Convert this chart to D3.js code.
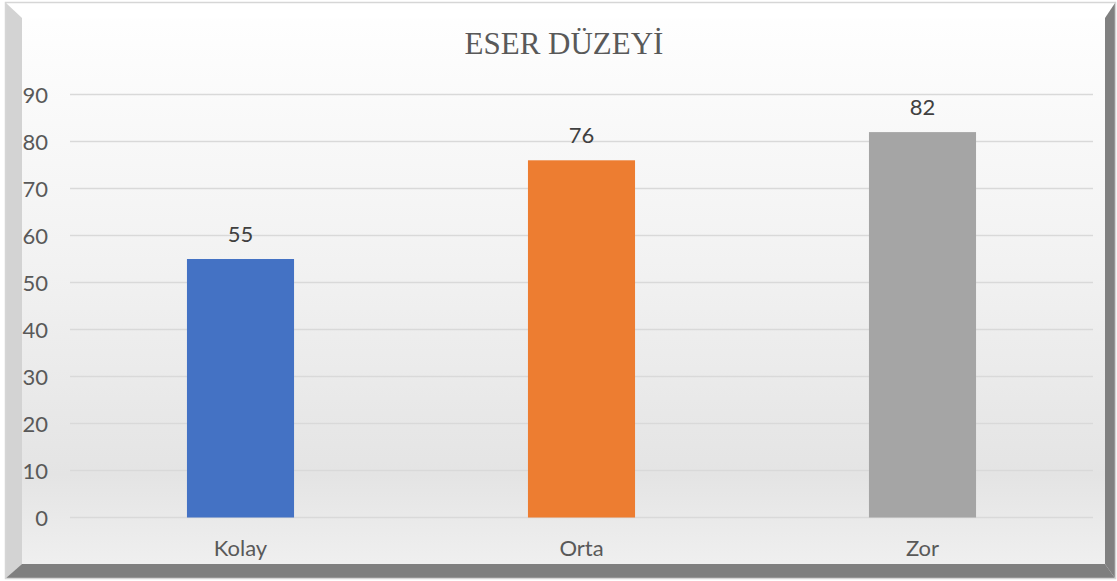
<!DOCTYPE html>
<html>
<head>
<meta charset="utf-8">
<script src="https://cdn.jsdelivr.net/npm/d3@7"></script>
<style>
  html, body { margin: 0; padding: 0; background: #fff; }
  svg { display: block; }
</style>
</head>
<body>
<svg width="1117" height="581"></svg>
<script>
// chart data
var categories = ["Kolay", "Orta", "Zor"];
var values = [55, 76, 82];
var barColors = ["#4472C4", "#ED7D31", "#A5A5A5"];
var yTicks = [0, 10, 20, 30, 40, 50, 60, 70, 80, 90];
var title = "ESER DÜZEYİ";

var mySVG = d3.select("svg");
var W = 1117, H = 581;

// background gradient for the inner panel
var defs = mySVG.append("defs");
var grad = defs.append("linearGradient").attr("id", "bg").attr("x1", 0).attr("y1", 0).attr("x2", 0).attr("y2", 1);
grad.append("stop").attr("offset", "0").attr("stop-color", "#ffffff");
grad.append("stop").attr("offset", "0.45").attr("stop-color", "#f2f2f2");
grad.append("stop").attr("offset", "0.82").attr("stop-color", "#e4e4e4");
grad.append("stop").attr("offset", "1").attr("stop-color", "#f1f1f1");

// frame (bevelled border)
var L = 6, T = 3, R = 1115, B = 578, il = 22, it = 18, ir = 1105, ib = 564;
mySVG.append("rect").attr("x", L).attr("y", T).attr("width", R - L).attr("height", B - T).attr("fill", "url(#bg)");
mySVG.append("polygon").attr("points", [[L, T], [R, T], [ir, it], [il, it]].join(" ")).attr("fill", "#ffffff");
mySVG.append("polygon").attr("points", [[L, T], [il, it], [il, ib], [L, B]].join(" ")).attr("fill", "#d3d3d3");
mySVG.append("polygon").attr("points", [[R, T], [R, B], [ir, ib], [ir, it]].join(" ")).attr("fill", "#808080");
mySVG.append("polygon").attr("points", [[L, B], [il, ib], [ir, ib], [R, B]].join(" ")).attr("fill", "#7f7f7f");
mySVG.append("rect").attr("x", L - 0.5).attr("y", T - 0.5).attr("width", R - L + 1).attr("height", B - T + 1)
  .attr("fill", "none").attr("stroke", "#d6d6d6").attr("stroke-width", 1.5);

// scales
var x = d3.scaleBand().domain(categories).range([70, 1093]).paddingInner(0.686).paddingOuter(0.343);
var y = d3.scaleLinear().domain([0, 90]).range([517.5, 94.5]);

// gridlines
mySVG.append("g").selectAll("line").data(yTicks).join("line")
  .attr("x1", 70).attr("x2", 1093)
  .attr("y1", function(d){ return y(d); }).attr("y2", function(d){ return y(d); })
  .attr("stroke", "#d9d9d9").attr("stroke-width", 1.5);

// y axis labels
var yAxis = d3.axisLeft(y).tickValues(yTicks).tickSize(0).tickPadding(0);
var gy = mySVG.append("g").attr("transform", "translate(48,0)").call(yAxis);
gy.select(".domain").remove();
gy.selectAll("text").attr("font-family", "Lato, sans-serif").attr("font-size", 22)
  .attr("fill", "#595959").attr("dy", "0.36em");

// x axis labels
var xAxis = d3.axisBottom(x).tickSize(0).tickPadding(0);
var gx = mySVG.append("g").attr("transform", "translate(0,556)").call(xAxis);
gx.select(".domain").remove();
gx.selectAll("text").attr("font-family", "Lato, sans-serif").attr("font-size", 22)
  .attr("fill", "#595959").attr("dy", 0);

// bars
var data = categories.map(function(c, i){ return {cat: c, val: values[i], color: barColors[i]}; });
mySVG.append("g").selectAll("rect").data(data).join("rect")
  .attr("x", function(d){ return x(d.cat); })
  .attr("width", x.bandwidth())
  .attr("y", function(d){ return y(d.val); })
  .attr("height", function(d){ return y(0) - y(d.val); })
  .attr("fill", function(d){ return d.color; });

// value labels
mySVG.append("g").selectAll("text").data(data).join("text")
  .attr("x", function(d){ return x(d.cat) + x.bandwidth() / 2; })
  .attr("y", function(d){ return y(d.val) - 17; })
  .attr("text-anchor", "middle")
  .attr("font-family", "Lato, sans-serif").attr("font-size", 22)
  .attr("fill", "#404040")
  .text(function(d){ return d.val; });

// title
mySVG.append("text").attr("x", 564).attr("y", 54).attr("text-anchor", "middle")
  .attr("font-family", "'Liberation Serif', 'Times New Roman', serif").attr("font-size", 31)
  .attr("fill", "#595959").text(title);
</script>
</body>
</html>
